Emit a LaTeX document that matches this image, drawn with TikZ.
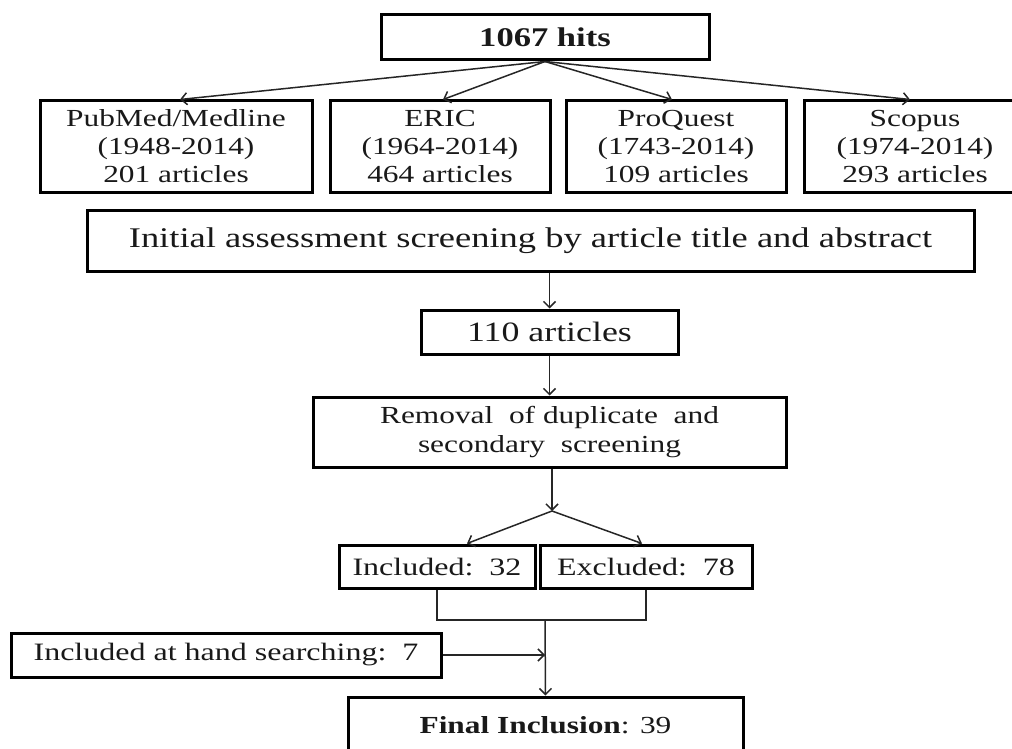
\documentclass[tikz,border=0pt]{standalone}
\usepackage{fontspec}
\setmainfont{Liberation Serif}[FakeStretch=1.28]
\usetikzlibrary{arrows.meta}
\tikzset{
  box/.style={draw=black, line width=3pt, inner sep=0pt, align=center, text=black!90},
  conn/.style={draw=black!85, line width=1.5pt},
  arr/.style={conn, -{Straight Barb[length=6pt,width=12pt,line width=1.5pt]}},
}
\begin{document}
\begin{tikzpicture}[x=1pt,y=-1pt]
\useasboundingbox (0,0) rectangle (1012,749);
% nodes
\node[box, minimum width=328pt, minimum height=45pt, font=\fontsize{27}{30}\selectfont\bfseries] (hits) at (545,37.5) {1067 hits};
\node[box, minimum width=272pt, minimum height=91pt, font=\fontsize{24.5}{28}\selectfont] (pub) at (176,146.5) {PubMed/Medline\\(1948-2014)\\201 articles};
\node[box, minimum width=220pt, minimum height=91pt, font=\fontsize{24.5}{28}\selectfont] (eric) at (440,146.5) {ERIC\\(1964-2014)\\464 articles};
\node[box, minimum width=220pt, minimum height=91pt, font=\fontsize{24.5}{28}\selectfont] (proq) at (676,146.5) {ProQuest\\(1743-2014)\\109 articles};
\node[box, minimum width=222pt, minimum height=91pt, font=\fontsize{24.5}{28}\selectfont] (scop) at (915,146.5) {Scopus\\(1974-2014)\\293 articles};
\node[box, minimum width=887pt, minimum height=61pt, font=\fontsize{28.5}{32}\selectfont] (init) at (530.5,240.5) {Initial assessment screening by article title and abstract};
\node[box, minimum width=257pt, minimum height=44pt, font=\fontsize{28}{32}\selectfont] (n110) at (549.5,332) {110 articles};
\node[box, minimum width=473pt, minimum height=70pt, font=\fontsize{24.5}{29}\selectfont] (rem) at (549.5,432) {Removal\ \ of duplicate\ \ and\\secondary\ \ screening};
\node[box, minimum width=196pt, minimum height=43pt, font=\fontsize{25}{29}\selectfont] (inc) at (437,566.5) {Included:\ \ 32};
\node[box, minimum width=212pt, minimum height=43pt, font=\fontsize{25}{29}\selectfont] (exc) at (646,566.5) {Excluded:\ \ 78};
\node[box, minimum width=430pt, minimum height=44pt, font=\fontsize{25}{29}\selectfont] (hand) at (226,655) {Included\ at\ hand\ searching:\ \ 7};
\node[box, minimum width=395pt, minimum height=56pt, font=\fontsize{24.5}{28}\selectfont] (final) at (545.5,725) {\textbf{Final\ Inclusion}: 39};
% coordinates
\coordinate (split) at (552,511);
\coordinate (join) at (545,620);
\coordinate (meet) at (545,655);
% connectors
\draw[arr] (hits.south) -- ([xshift=4pt]pub.north);
\draw[arr] (hits.south) -- ([xshift=3pt]eric.north);
\draw[arr] (hits.south) -- ([xshift=-4pt]proq.north);
\draw[arr] (hits.south) -- ([xshift=-5pt]scop.north);
\draw[arr] (n110.north |- init.south) -- (n110.north);
\draw[arr] (n110.south) -- (rem.north);
\draw[arr] (rem.south -| split) -- (split);
\draw[arr] (split) -- ([xshift=30pt]inc.north);
\draw[arr] (split) -- ([xshift=-4pt]exc.north);
\draw[conn] (inc.south) |- (join) -| (exc.south);
\draw[arr] (join) -- (final.north);
\draw[arr] (hand.east) -- (meet);
\end{tikzpicture}
\end{document}
